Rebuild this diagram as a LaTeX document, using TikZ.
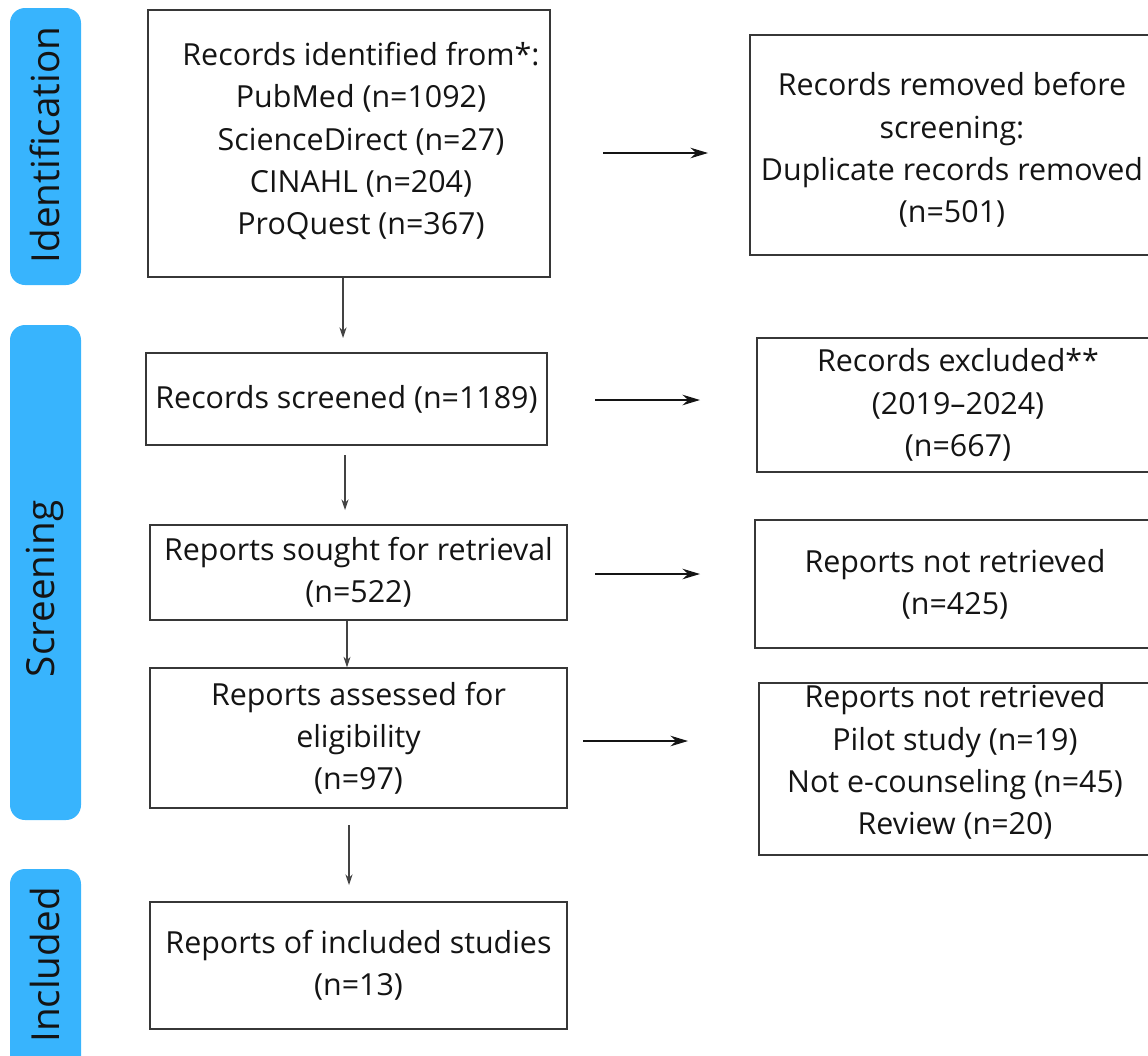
\documentclass[tikz,border=0pt]{standalone}
\usepackage{fontspec}
\setmainfont{Open Sans}
\usetikzlibrary{arrows.meta}
\definecolor{phase}{RGB}{56,180,253}
\definecolor{ink}{RGB}{20,20,20}

\begin{document}
\begin{tikzpicture}[x=0.02cm,y=-0.02cm]
\tikzstyle{box}=[draw=ink!85, line width=0.8pt, inner sep=0pt, align=center, font=\fontsize{17.3}{24}\selectfont, text=ink]
\tikzstyle{txt}=[inner sep=0pt, align=center, font=\fontsize{17.3}{24}\selectfont, text=ink]
\tikzstyle{phasebar}=[fill=phase, rounded corners=0.3cm]
\tikzstyle{phaselbl}=[rotate=90, inner sep=0pt, font=\fontsize{22}{26}\selectfont, text=ink]
\tikzstyle{arr}=[-{Stealth[length=10pt,width=6pt]}, line width=0.7pt, draw=ink]
\tikzstyle{darr}=[-{Stealth[length=6pt,width=4pt]}, line width=0.6pt, draw=ink!80]
\useasboundingbox (0,0) rectangle (1148,1055);

% phases
\fill[phasebar] (10,8) rectangle (81,285);
\fill[phasebar] (10,325) rectangle (81,820);
\fill[phasebar] (10,869) rectangle (81,1080);
\node[phaselbl] (pident) at (45,145) {Identification};
\node[phaselbl] (pscreen) at (45,589) {Screening};
\node[phaselbl] (pincl) at (45,965) {Included};

% left column
\node[box, minimum width=8.04cm, minimum height=5.34cm] (ident) at (349,143.5) {};
\node[txt] (identtxt) at (361,141) {Records identified from*:\\PubMed (n=1092)\\ScienceDirect (n=27)\\CINAHL (n=204)\\ProQuest (n=367)};
\node[box, minimum width=8.02cm, minimum height=1.84cm] (screen) at (346.5,399) {Records screened (n=1189)};
\node[box, minimum width=8.34cm, minimum height=1.9cm] (sought) at (358.5,572.5) {Reports sought for retrieval\\(n=522)};
\node[box, minimum width=8.34cm, minimum height=2.8cm] (assess) at (358.5,738) {Reports assessed for\\eligibility\\(n=97)};
\node[box, minimum width=8.34cm, minimum height=2.54cm] (incl) at (358.5,965.5) {Reports of included studies\\(n=13)};

% right column
\node[box, minimum width=8.1cm, minimum height=4.4cm] (removed) at (952.5,145) {};
\node[txt] (removedtxt) at (952,150) {Records removed before\\screening:\\Duplicate records removed\\(n=501)};
\node[box, minimum width=8.04cm, minimum height=2.68cm] (excl) at (958,405) {Records excluded**\\(2019--2024)\\(n=667)};
\node[box, minimum width=8cm, minimum height=2.56cm] (notret) at (955,584) {Reports not retrieved\\(n=425)};
\node[box, minimum width=7.84cm, minimum height=3.44cm] (notelig) at (955,769) {};
\node[txt] (noteligtxt) at (955,762) {Reports not retrieved\\Pilot study (n=19)\\Not e-counseling (n=45)\\Review (n=20)};

% arrows
\coordinate (r1a) at (603,153); \coordinate (r1b) at (708,153);
\coordinate (r2a) at (595,400); \coordinate (r2b) at (700,400);
\coordinate (r3a) at (595,574); \coordinate (r3b) at (700,574);
\coordinate (r4a) at (583,741); \coordinate (r4b) at (688,741);
\coordinate (d1) at (343,338);
\coordinate (d2a) at (345,455); \coordinate (d2b) at (345,510);
\coordinate (d4a) at (349,825); \coordinate (d4b) at (349,885);
\draw[arr] (r1a) -- (r1b);
\draw[arr] (r2a) -- (r2b);
\draw[arr] (r3a) -- (r3b);
\draw[arr] (r4a) -- (r4b);
\draw[darr] (ident.south -| d1) -- (d1);
\draw[darr] (d2a) -- (d2b);
\draw[darr] (sought.south -| 347,0) -- (assess.north -| 347,0);
\draw[darr] (d4a) -- (d4b);
\end{tikzpicture}
\end{document}
